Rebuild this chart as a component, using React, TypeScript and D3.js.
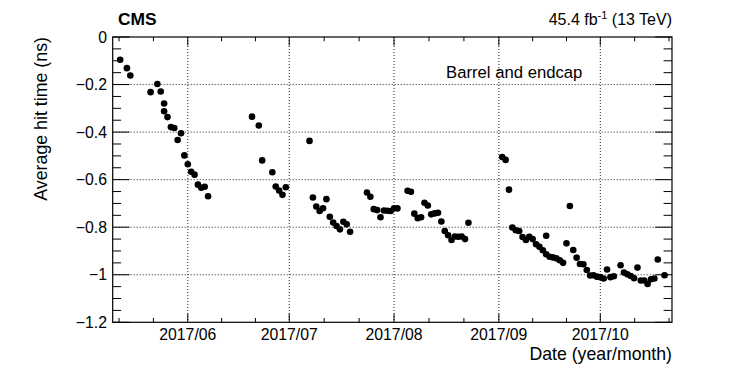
import React, { useEffect, useRef } from 'react'
import * as d3 from 'd3'

const width = 747
const height = 380
const plot = { left: 112.7, right: 672, top: 37, bottom: 322.3 }
const font = '"Liberation Sans", Arial, Helvetica, sans-serif'

// average hit time per day (ns), grouped by month
const mayDays = [12, 14, 15, 21, 23, 24, 25, 25, 26, 27, 28, 29, 30, 31]
const mayTimes = [-0.096, -0.131, -0.162, -0.232, -0.198, -0.229, -0.28, -0.312, -0.337, -0.379, -0.383, -0.433, -0.405, -0.498]
const junDays = [1, 2, 3, 4, 5, 6, 7, 20, 22, 23, 26, 27, 28, 29, 30]
const junTimes = [-0.535, -0.567, -0.579, -0.621, -0.634, -0.63, -0.67, -0.335, -0.372, -0.519, -0.569, -0.629, -0.646, -0.664, -0.632]
const julDays = [7, 8, 9, 10, 11, 12, 13, 14, 15, 16, 17, 18, 19, 24, 25, 26, 27, 28, 29, 30, 31]
const julTimes = [-0.437, -0.675, -0.713, -0.732, -0.72, -0.682, -0.756, -0.78, -0.795, -0.809, -0.777, -0.788, -0.819, -0.654, -0.672, -0.724, -0.728, -0.758, -0.73, -0.731, -0.732]
const augDays = [1, 2, 5, 6, 7, 8, 9, 10, 11, 12, 13, 14, 15, 16, 17, 18, 19, 20, 21, 22, 23]
const augTimes = [-0.72, -0.721, -0.647, -0.651, -0.743, -0.762, -0.758, -0.697, -0.709, -0.746, -0.742, -0.739, -0.776, -0.816, -0.834, -0.854, -0.839, -0.84, -0.839, -0.85, -0.781]
const sepDays = [2, 3, 4, 5, 6, 7, 8, 9, 10, 11, 12, 13, 14, 15, 15, 16, 17, 18, 19, 20, 21, 22, 23, 24, 25, 26, 27, 28, 29, 30]
const sepTimes = [-0.505, -0.517, -0.642, -0.801, -0.813, -0.816, -0.841, -0.854, -0.84, -0.85, -0.872, -0.882, -0.897, -0.914, -0.836, -0.924, -0.927, -0.931, -0.939, -0.95, -0.868, -0.711, -0.896, -0.928, -0.955, -0.956, -0.98, -1.003, -1.002, -1.008]
const octDays = [1, 2, 3, 4, 5, 7, 8, 9, 10, 11, 12, 13, 14, 15, 16, 17, 18, 20]
const octTimes = [-1.01, -1.016, -0.978, -1.01, -1.006, -0.96, -0.991, -0.998, -1.005, -1.015, -0.97, -1.024, -1.024, -1.039, -1.019, -1.016, -0.936, -1.002]

const months = [
  { month: 4, days: mayDays, times: mayTimes },
  { month: 5, days: junDays, times: junTimes },
  { month: 6, days: julDays, times: julTimes },
  { month: 7, days: augDays, times: augTimes },
  { month: 8, days: sepDays, times: sepTimes },
  { month: 9, days: octDays, times: octTimes }
]

const yTicks = [0, -0.2, -0.4, -0.6, -0.8, -1, -1.2]

const App = () => {
  const ref = useRef<SVGSVGElement>(null)

  useEffect(() => {
    const svg = d3.select(ref.current)
    svg.selectAll('*').remove()

    const points = months.flatMap(m =>
      m.days.map((d, i) => ({ date: new Date(Date.UTC(2017, m.month, d)), t: m.times[i] }))
    )

    const x = d3.scaleUtc()
      .domain([new Date(Date.UTC(2017, 4, 9, 19)), new Date(Date.UTC(2017, 9, 22, 5))])
      .range([plot.left, plot.right])
    const y = d3.scaleLinear().domain([-1.2, 0]).range([plot.bottom, plot.top])

    const majorX = d3.utcMonth.range(x.domain()[0], x.domain()[1]).map(d => x(d))
    const minorX: number[] = []
    const step = (majorX[majorX.length - 1] - majorX[0]) / (majorX.length - 1)
    for (let p = majorX[0] - step / 3; p > plot.left; p -= step / 3) minorX.push(p)
    majorX.forEach((p, i) => {
      const next = i < majorX.length - 1 ? majorX[i + 1] : p + step
      for (let j = 1; j < 3; j++) {
        const q = p + (next - p) * j / 3
        if (q < plot.right) minorX.push(q)
      }
    })
    const minorY = d3.range(0, 25).map(i => -i * 0.05)

    // grid
    const grid = svg.append('g')
      .attr('stroke', '#222')
      .attr('stroke-width', 1)
      .attr('stroke-dasharray', '1 2')
    grid.selectAll('.gx').data(majorX).enter().append('line')
      .attr('x1', d => d).attr('x2', d => d)
      .attr('y1', plot.top).attr('y2', plot.bottom)
    grid.selectAll('.gy').data(yTicks.slice(1, -1)).enter().append('line')
      .attr('x1', plot.left).attr('x2', plot.right)
      .attr('y1', d => y(d)).attr('y2', d => y(d))

    // ticks on all four sides
    const ticks = svg.append('g').attr('stroke', '#000').attr('stroke-width', 1)
    const xt = [...majorX.map(p => ({ p, l: 8.6 })), ...minorX.map(p => ({ p, l: 4.3 }))]
    xt.forEach(({ p, l }) => {
      ticks.append('line').attr('x1', p).attr('x2', p).attr('y1', plot.bottom).attr('y2', plot.bottom - l)
      ticks.append('line').attr('x1', p).attr('x2', p).attr('y1', plot.top).attr('y2', plot.top + l)
    })
    minorY.forEach(v => {
      const major = Math.abs(v * 5 - Math.round(v * 5)) < 1e-6
      const l = major ? 16.8 : 8.4
      ticks.append('line').attr('x1', plot.left).attr('x2', plot.left + l).attr('y1', y(v)).attr('y2', y(v))
      ticks.append('line').attr('x1', plot.right).attr('x2', plot.right - l).attr('y1', y(v)).attr('y2', y(v))
    })

    // frame
    svg.append('rect')
      .attr('x', plot.left).attr('y', plot.top)
      .attr('width', plot.right - plot.left).attr('height', plot.bottom - plot.top)
      .attr('fill', 'none').attr('stroke', '#000').attr('stroke-width', 1.2)

    // markers
    svg.append('g').selectAll('circle').data(points).enter().append('circle')
      .attr('cx', d => x(d.date))
      .attr('cy', d => y(d.t))
      .attr('r', 3.3)
      .attr('fill', '#000')

    // tick labels
    const fmtY = (v: number) => (v === 0 ? '0' : '\u2212' + d3.format('~g')(-v))
    svg.append('g').selectAll('text').data(yTicks).enter().append('text')
      .attr('x', 107).attr('y', d => y(d)).attr('dy', '0.36em')
      .attr('text-anchor', 'end')
      .attr('font-family', font).attr('font-size', 15.8)
      .text(fmtY)
    const fmtX = d3.utcFormat('%Y/%m')
    svg.append('g').selectAll('text').data(d3.utcMonth.range(x.domain()[0], x.domain()[1])).enter().append('text')
      .attr('x', d => x(d)).attr('y', 340)
      .attr('text-anchor', 'middle')
      .attr('font-family', font).attr('font-size', 15.8)
      .text(fmtX)

    // titles
    svg.append('text')
      .attr('x', plot.right).attr('y', 360)
      .attr('text-anchor', 'end')
      .attr('font-family', font).attr('font-size', 17.7)
      .text('Date (year/month)')
    svg.append('text')
      .attr('transform', `translate(47, ${plot.top}) rotate(-90)`)
      .attr('text-anchor', 'end')
      .attr('font-family', font).attr('font-size', 17.8)
      .text('Average hit time (ns)')
    svg.append('text')
      .attr('x', 118).attr('y', 25)
      .attr('font-family', font).attr('font-size', 17.4).attr('font-weight', 'bold')
      .text('CMS')
    const lumi = svg.append('text')
      .attr('x', plot.right).attr('y', 25)
      .attr('text-anchor', 'end')
      .attr('font-family', font).attr('font-size', 16)
    lumi.append('tspan').text('45.4 fb')
    lumi.append('tspan').attr('dy', -6).attr('font-size', 11).text('-1')
    lumi.append('tspan').attr('dy', 6).text(' (13 TeV)')
    svg.append('text')
      .attr('x', 446).attr('y', 78)
      .attr('font-family', font).attr('font-size', 16.7)
      .text('Barrel and endcap')
  }, [])

  return (
    <div style={{ position: 'absolute', left: 0, top: 0 }}>
      <svg ref={ref} width={width} height={height} style={{ display: 'block', background: '#fff' }} />
    </div>
  )
}

export default App
